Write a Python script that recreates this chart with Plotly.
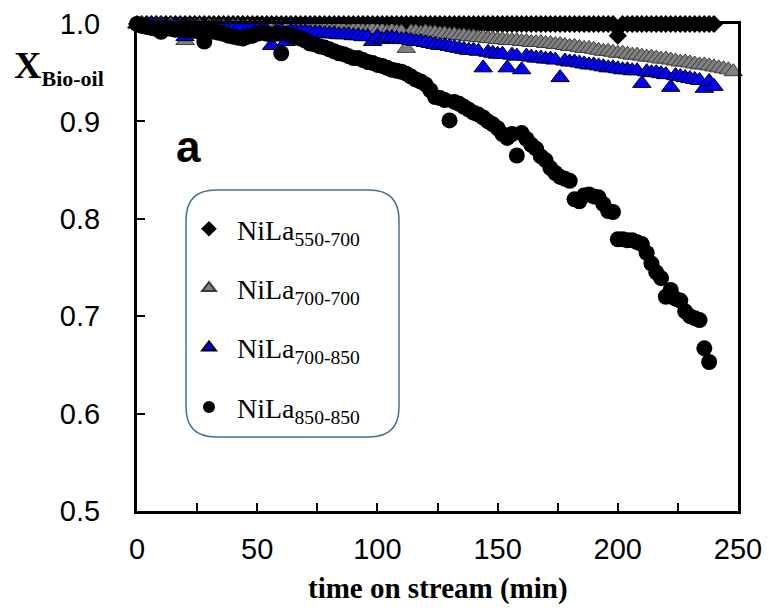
import plotly.graph_objects as go

# ---------------- data ----------------
minutes = [0, 2, 4, 6, 8, 10, 12, 14, 16, 18, 20, 22, 24, 26, 28, 30, 32, 34, 36, 38,
           40, 42, 44, 46, 48, 50, 52, 54, 56, 58, 60, 62, 64, 66, 68, 70, 72, 74, 76, 78,
           80, 82, 84, 86, 88, 90, 92, 94, 96, 98, 100, 102, 104, 106, 108, 110, 112, 114, 116, 118,
           120, 122, 124, 126, 128, 130, 132, 134, 136, 138, 140, 142, 144, 146, 148, 150, 152, 154, 156, 158,
           160, 162, 164, 166, 168, 170, 172, 174, 176, 178, 180, 182, 184, 186, 188, 190, 192, 194, 196, 198,
           200, 202, 204, 206, 208, 210, 212, 214, 216, 218, 220, 222, 224, 226, 228, 230, 232, 234, 236, 238,
           240, 242, 244, 246, 248]

t_550_700 = minutes[:121]
x_550_700 = [1.0, 1.0, 1.0, 1.0, 1.0, 1.0, 1.0, 1.0, 1.0, 1.0, 1.0, 1.0, 1.0, 1.0, 1.0, 1.0, 1.0, 1.0, 1.0, 1.0,
             1.0, 1.0, 1.0, 1.0, 1.0, 1.0, 1.0, 1.0, 1.0, 1.0, 1.0, 1.0, 1.0, 1.0, 1.0, 1.0, 1.0, 1.0, 1.0, 1.0,
             1.0, 1.0, 1.0, 1.0, 1.0, 1.0, 1.0, 1.0, 1.0, 1.0, 1.0, 1.0, 1.0, 1.0, 1.0, 1.0, 1.0, 1.0, 1.0, 1.0,
             1.0, 1.0, 1.0, 1.0, 1.0, 1.0, 1.0, 1.0, 1.0, 1.0, 1.0, 1.0, 1.0, 1.0, 1.0, 1.0, 1.0, 1.0, 1.0, 1.0,
             1.0, 1.0, 1.0, 1.0, 1.0, 1.0, 1.0, 1.0, 1.0, 1.0, 1.0, 1.0, 1.0, 1.0, 1.0, 1.0, 1.0, 1.0, 1.0, 1.0,
             0.988, 1.0, 1.0, 1.0, 1.0, 1.0, 1.0, 1.0, 1.0, 1.0, 1.0, 1.0, 1.0, 1.0, 1.0, 1.0, 1.0, 1.0, 1.0, 1.0,
             1.0]

t_700_700 = minutes[:125]
x_700_700 = [1.000, 1.000, 0.999, 0.999, 0.999, 0.999, 0.998, 0.999, 0.998, 0.998,
             0.983,
             0.998, 0.998, 0.998, 0.997, 0.998, 0.997, 0.997, 0.997, 0.996, 0.997,
             0.997, 0.996, 0.997, 0.996, 0.996, 0.996, 0.995, 0.996, 0.996,
             0.996, 0.995, 0.996, 0.995, 0.995, 0.995, 0.994, 0.995, 0.995, 0.994,
             0.994, 0.994, 0.995, 0.994, 0.993, 0.994, 0.994, 0.993, 0.993, 0.994,
             0.993, 0.993, 0.992, 0.993, 0.992, 0.992,
             0.975,
             0.992, 0.992, 0.991, 0.992, 0.991, 0.991, 0.990, 0.990, 0.989, 0.989,
             0.988, 0.988, 0.987, 0.987, 0.986, 0.986, 0.985, 0.985, 0.984,
             0.984, 0.983, 0.983, 0.983, 0.982, 0.982, 0.981, 0.981, 0.981, 0.980,
             0.980, 0.979, 0.979, 0.978, 0.977, 0.977, 0.976, 0.975, 0.975, 0.974,
             0.973, 0.972, 0.972, 0.971, 0.970,
             0.970, 0.969, 0.968, 0.968, 0.967, 0.966, 0.966, 0.965, 0.964, 0.964,
             0.963, 0.962, 0.961, 0.961, 0.960, 0.959, 0.958, 0.958, 0.957, 0.956,
             0.955, 0.954, 0.953, 0.951]

t_700_850 = minutes[:121]
x_700_850 = [1.000, 0.999, 0.999, 0.999, 0.998, 0.998, 0.998, 0.997, 0.998, 0.997,
             0.987,
             0.997, 0.997, 0.996, 0.997, 0.996, 0.996, 0.996, 0.995, 0.996, 0.995,
             0.995, 0.995, 0.994, 0.995, 0.994, 0.994, 0.993,
             0.978,
             0.993, 0.993,
             0.982,
             0.993, 0.992, 0.992, 0.992, 0.991, 0.991, 0.991, 0.990, 0.990, 0.990,
             0.989, 0.989, 0.989, 0.988, 0.988, 0.987, 0.987,
             0.982, 0.987, 0.984,
             0.986, 0.986, 0.985, 0.984, 0.984, 0.983, 0.982, 0.982, 0.981, 0.980,
             0.979, 0.978, 0.978, 0.977, 0.976, 0.975, 0.974, 0.973, 0.973, 0.972,
             0.955,
             0.971, 0.970, 0.969, 0.969,
             0.955,
             0.968, 0.967,
             0.953,
             0.967, 0.966, 0.965, 0.965, 0.964, 0.964, 0.963,
             0.945,
             0.962, 0.961, 0.961, 0.960, 0.959, 0.958, 0.958, 0.957, 0.956, 0.955,
             0.955, 0.954, 0.953, 0.953, 0.952, 0.952,
             0.939,
             0.951, 0.950, 0.950, 0.949, 0.948,
             0.935,
             0.947, 0.946, 0.945, 0.944, 0.943, 0.942,
             0.934,
             0.941, 0.936]

t_850_850 = minutes[:120]
x_850_850 = [1.000, 0.998, 0.997, 0.996, 0.995, 0.992, 0.996, 0.995, 0.994, 0.995,
             0.993, 0.994, 0.993, 0.992, 0.982, 0.993, 0.992, 0.991, 0.990, 0.988,
             0.987, 0.986, 0.985, 0.987, 0.988, 0.990, 0.991, 0.990, 0.989, 0.990,
             0.970, 0.990, 0.988, 0.987, 0.985, 0.983, 0.980, 0.979, 0.977, 0.976,
             0.974, 0.972, 0.970, 0.969, 0.967, 0.965, 0.965, 0.963, 0.961, 0.960,
             0.958, 0.957, 0.955, 0.953, 0.952, 0.951, 0.949, 0.946, 0.943, 0.941,
             0.938, 0.932, 0.925, 0.924, 0.922, 0.901, 0.920, 0.918, 0.915, 0.912,
             0.909, 0.907, 0.904, 0.900, 0.897, 0.893, 0.887, 0.883, 0.887, 0.865,
             0.888, 0.882, 0.876, 0.872, 0.864, 0.860, 0.852, 0.847, 0.843, 0.841,
             0.839, 0.820, 0.818, 0.824, 0.825, 0.823, 0.822, 0.815, 0.808, 0.807,
             0.779, 0.779, 0.778, 0.778, 0.776, 0.774, 0.765, 0.754, 0.745, 0.739,
             0.720, 0.727, 0.718, 0.716, 0.705, 0.700, 0.698, 0.696, 0.667, 0.653]

series_names = ["NiLa<sub>550-700</sub>", "NiLa<sub>700-700</sub>",
                "NiLa<sub>700-850</sub>", "NiLa<sub>850-850</sub>"]
x_ticks = [0, 50, 100, 150, 200, 250]
y_ticks = [0.5, 0.6, 0.7, 0.8, 0.9, 1.0]

# ---------------- figure ----------------
fig = go.Figure()

fig.add_trace(go.Scatter(x=t_550_700, y=x_550_700, mode="markers", name=series_names[0],
                         legendgroup="a", cliponaxis=False,
                         marker=dict(symbol="diamond", size=14, color="black",
                                     line=dict(width=0))))
fig.add_trace(go.Scatter(x=t_700_700, y=x_700_700, mode="markers", name=series_names[1],
                         legendgroup="b", cliponaxis=False,
                         marker=dict(symbol="triangle-up", size=16, color="#808080",
                                     line=dict(width=1, color="#3a3a3a"))))
fig.add_trace(go.Scatter(x=t_700_850, y=x_700_850, mode="markers", name=series_names[2],
                         legendgroup="c", cliponaxis=False,
                         marker=dict(symbol="triangle-up", size=16, color="#0000FF",
                                     line=dict(width=1, color="#000000"))))
fig.add_trace(go.Scatter(x=t_850_850, y=x_850_850, mode="markers", name=series_names[3],
                         legendgroup="d", cliponaxis=False,
                         marker=dict(symbol="circle", size=16, color="black",
                                     line=dict(width=0))))

# plot area in pixels: x 137..738, y 24..511
PW, PH = 601.0, 487.0
def px(xp):
    return (xp - 137) / PW
def py(yp):
    return (511 - yp) / PH

# rounded legend box
x0, x1, ytop, ybot, r = 186, 399, 190, 437, 30
rx, ry = r / PW, r / PH
path = (f"M {px(x0)+rx},{py(ytop)} L {px(x1)-rx},{py(ytop)} "
        f"Q {px(x1)},{py(ytop)} {px(x1)},{py(ytop)-ry} "
        f"L {px(x1)},{py(ybot)+ry} Q {px(x1)},{py(ybot)} {px(x1)-rx},{py(ybot)} "
        f"L {px(x0)+rx},{py(ybot)} Q {px(x0)},{py(ybot)} {px(x0)},{py(ybot)+ry} "
        f"L {px(x0)},{py(ytop)-ry} Q {px(x0)},{py(ytop)} {px(x0)+rx},{py(ytop)} Z")
fig.add_shape(type="path", path=path, xref="paper", yref="paper",
              line=dict(color="#41719C", width=1.5), fillcolor="white", layer="below")

fig.update_layout(
    width=769, height=612,
    margin=dict(l=137, r=31, t=24, b=101, autoexpand=False),
    paper_bgcolor="white", plot_bgcolor="white",
    showlegend=True,
    legend=dict(x=px(181), y=py(204), xanchor="left", yanchor="top",
                bgcolor="rgba(0,0,0,0)", borderwidth=0,
                traceorder="grouped", tracegroupgap=20,
                itemsizing="constant", itemwidth=46,
                font=dict(family="Liberation Serif", size=28, color="black")),
    xaxis=dict(range=[0, 250], tickvals=x_ticks, ticks="inside", ticklen=8, tickwidth=2,
               tickcolor="black", showline=True, linewidth=3, linecolor="black",
               mirror=True, showgrid=False, zeroline=False, automargin=False,
               minor=dict(dtick=25, tick0=0, ticks="inside", ticklen=8, tickwidth=2,
                          tickcolor="black", showgrid=False),
               ticklabelstandoff=10,
               tickfont=dict(family="Liberation Sans", size=29, color="black")),
    yaxis=dict(range=[0.5, 1.0], tickvals=y_ticks, tickformat=".1f", ticks="inside",
               ticklen=8, tickwidth=2, tickcolor="black", showline=True, linewidth=3,
               linecolor="black", mirror=True, showgrid=False, zeroline=False,
               automargin=False, ticklabelstandoff=28,
               tickfont=dict(family="Liberation Sans", size=29, color="black")),
    annotations=[
        dict(text="<b>time on stream (min)</b>", xref="paper", yref="paper",
             x=0.5, y=py(588), xanchor="center", yanchor="middle", showarrow=False,
             font=dict(family="Liberation Serif", size=29, color="black")),
        dict(text="<b>X<sub><span style='font-size:22px'>Bio-oil</span></sub></b>",
             xref="paper", yref="paper",
             x=px(12), y=py(67), xanchor="left", yanchor="middle", showarrow=False,
             font=dict(family="Liberation Serif", size=38, color="black")),
        dict(text="<b>a</b>", xref="paper", yref="paper",
             x=px(188), y=py(146), xanchor="center", yanchor="middle", showarrow=False,
             font=dict(family="Liberation Sans", size=44, color="black")),
    ],
)

fig.write_html("out.html", config={"displayModeBar": False},
               post_script="document.body.style.margin='0';")
